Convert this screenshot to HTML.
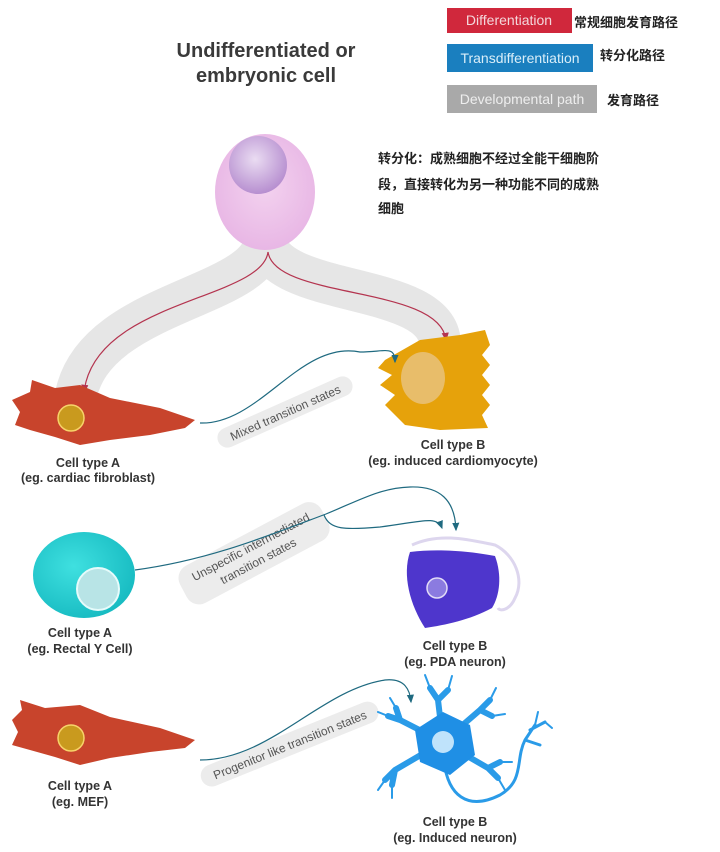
<!DOCTYPE html>
<html><head><meta charset="utf-8"><style>
html,body{margin:0;padding:0;background:#fff}
svg{display:block}
text{font-family:"Liberation Sans","Noto Sans CJK SC",sans-serif}
.lb{font-size:12.5px;font-weight:bold;fill:#333;text-anchor:middle}
</style></head><body>
<svg width="720" height="852" viewBox="0 0 720 852" xmlns="http://www.w3.org/2000/svg">
<defs>
<radialGradient id="pk" cx="0.5" cy="0.45" r="0.6"><stop offset="0" stop-color="#f3d2ef"/><stop offset="1" stop-color="#e7b4e4"/></radialGradient>
<radialGradient id="nu" cx="0.45" cy="0.4" r="0.6"><stop offset="0" stop-color="#eadcf2"/><stop offset="1" stop-color="#b78fd0"/></radialGradient>
<radialGradient id="tl" cx="0.4" cy="0.4" r="0.7"><stop offset="0" stop-color="#3fe0e0"/><stop offset="1" stop-color="#14b8bf"/></radialGradient>
<marker id="ar" markerWidth="8" markerHeight="8" refX="6" refY="4" orient="auto"><path d="M0,1 L7,4 L0,7 z" fill="#b4344f"/></marker>
<marker id="ab" markerWidth="8" markerHeight="8" refX="6" refY="4" orient="auto"><path d="M0,1 L7,4 L0,7 z" fill="#1f6a80"/></marker>
</defs>

<!-- legend -->
<rect x="447" y="8" width="125" height="25" fill="#d0283c"/>
<text x="509" y="25" font-size="14" fill="#f3d7db" text-anchor="middle">Differentiation</text>
<text x="574" y="27" font-size="13" font-weight="bold" fill="#222">常规细胞发育路径</text>
<rect x="447" y="44" width="146" height="28" fill="#1a7fbf"/>
<text x="520" y="63" font-size="14" fill="#d9eef9" text-anchor="middle">Transdifferentiation</text>
<text x="600" y="60" font-size="13" font-weight="bold" fill="#222">转分化路径</text>
<rect x="447" y="85" width="150" height="28" fill="#a9a9a9"/>
<text x="522" y="104" font-size="14" fill="#eee" text-anchor="middle">Developmental path</text>
<text x="607" y="105" font-size="13" font-weight="bold" fill="#222">发育路径</text>

<!-- title -->
<text x="266" y="57" font-size="20" font-weight="bold" fill="#3a3a3a" text-anchor="middle">Undifferentiated or</text>
<text x="266" y="82" font-size="20" font-weight="bold" fill="#3a3a3a" text-anchor="middle">embryonic cell</text>

<text font-size="13" font-weight="bold" fill="#222"><tspan x="378" y="163">转分化：成熟细胞不经过全能干细胞阶</tspan><tspan x="378" y="189">段，直接转化为另一种功能不同的成熟</tspan><tspan x="378" y="213">细胞</tspan></text>

<!-- developmental path -->
<path d="M265,240 C260,300 90,300 75,400" stroke="#e6e6e6" stroke-width="42" fill="none" stroke-linecap="round"/>
<path d="M265,240 C275,300 440,280 440,345" stroke="#e6e6e6" stroke-width="42" fill="none" stroke-linecap="round"/>

<!-- pink cell -->
<ellipse cx="265" cy="192" rx="50" ry="58" fill="url(#pk)"/>
<circle cx="258" cy="165" r="29" fill="url(#nu)"/>

<!-- red arrows -->
<path d="M268,252 C262,300 95,300 84,392" stroke="#b4344f" stroke-width="1.2" fill="none" marker-end="url(#ar)"/>
<path d="M268,252 C275,300 440,285 446,340" stroke="#b4344f" stroke-width="1.2" fill="none" marker-end="url(#ar)"/>

<!-- cell A red -->
<path d="M12,400 L30,392 L32,380 L55,388 L80,385 L110,398 L160,408 L195,420 L185,428 L150,435 L110,440 L80,445 L55,437 L30,430 L15,425 L20,412 Z" fill="#c8442c"/>
<circle cx="71" cy="418" r="13" fill="#c99a1e" stroke="#f7d36a" stroke-width="1.5"/>

<!-- cell B yellow -->
<path d="M385,360 L420,340 L460,335 L485,330 L490,345 L482,355 L490,365 L482,375 L490,385 L482,395 L490,405 L482,415 L488,428 L440,430 L405,425 L395,415 L385,405 L395,395 L380,385 L392,375 L378,368 Z" fill="#e6a20b"/>
<ellipse cx="423" cy="378" rx="22" ry="26" fill="#e8bd6a"/>

<!-- blue arrow 1 -->
<path d="M200,423 C260,425 300,340 360,352 C385,352 395,345 395,362" stroke="#1f6a80" stroke-width="1.2" fill="none" marker-end="url(#ab)"/>
<g transform="rotate(-24 285 412)"><rect x="212" y="402" width="146" height="20" rx="10" fill="#ececec"/><text x="285" y="417" font-size="12" fill="#555" text-anchor="middle">Mixed transition states</text></g>

<text class="lb" x="88" y="467">Cell type A</text>
<text class="lb" x="88" y="482">(eg. cardiac fibroblast)</text>
<text class="lb" x="453" y="449">Cell type B</text>
<text class="lb" x="453" y="465">(eg. induced cardiomyocyte)</text>

<!-- section 2 -->
<ellipse cx="84" cy="575" rx="51" ry="43" fill="url(#tl)"/>
<circle cx="98" cy="589" r="21" fill="#b8e4e6" stroke="#e6fbfb" stroke-width="2"/>
<g transform="rotate(-28 255 555)"><rect x="175" y="532" width="160" height="42" rx="14" fill="#ececec"/><text x="255" y="550" font-size="12" fill="#555" text-anchor="middle">Unspecific intermediated</text><text x="255" y="566" font-size="12" fill="#555" text-anchor="middle">transition states</text></g>
<path d="M135,570 C210,560 270,535 326,514 C360,500 380,488 410,487 C440,486 455,500 456,530" stroke="#1f6a80" stroke-width="1.2" fill="none" marker-end="url(#ab)"/>
<path d="M324,515 C330,530 345,530 380,527 C420,522 437,515 442,528" stroke="#1f6a80" stroke-width="1.2" fill="none" marker-end="url(#ab)"/>
<path d="M412,545 C440,532 470,540 495,545 C515,555 525,580 515,598 C510,610 500,612 498,608" stroke="#ddd6ee" stroke-width="3" fill="none"/>
<path d="M410,552 C440,548 475,552 495,556 C502,575 500,595 492,608 C470,620 445,625 425,628 C410,605 402,575 410,552 Z" fill="#4e36cc"/>
<circle cx="437" cy="588" r="10" fill="#8b7be0" stroke="#e2dcf7" stroke-width="1.5"/>
<text class="lb" x="80" y="637">Cell type A</text>
<text class="lb" x="80" y="653">(eg. Rectal Y Cell)</text>
<text class="lb" x="455" y="650">Cell type B</text>
<text class="lb" x="455" y="666">(eg. PDA neuron)</text>

<!-- section 3 -->
<path d="M12,720 L22,710 L20,700 L45,708 L80,705 L110,717 L160,728 L195,740 L185,748 L150,752 L110,758 L80,765 L55,757 L30,750 L12,745 L18,732 Z" fill="#c8442c"/>
<circle cx="71" cy="738" r="13" fill="#c99a1e" stroke="#f7d36a" stroke-width="1.5"/>
<g transform="rotate(-22 290 745)"><rect x="195" y="733" width="190" height="22" rx="11" fill="#ececec"/><text x="290" y="749" font-size="12" fill="#555" text-anchor="middle">Progenitor like transition states</text></g>
<path d="M200,760 C270,760 320,690 385,680 C405,678 410,690 411,702" stroke="#1f6a80" stroke-width="1.2" fill="none" marker-end="url(#ab)"/>
<!-- neuron -->
<g stroke="#2a9be8" fill="none" stroke-linecap="round">
<path d="M443,742 L438,700 L430,688 M438,700 L448,690 M443,742 L400,720 L388,716 M400,720 L396,708 M443,742 L395,770 L385,780 M395,770 L392,785 M443,742 L480,710 L490,700 M480,710 L492,716 M443,742 L488,768 L498,778 M488,768 L500,762" stroke-width="6"/>
<path d="M443,750 C445,800 470,810 500,795 C525,780 515,760 525,740 L535,725 M525,740 L540,745 M530,730 L545,722" stroke-width="3"/>
<path d="M430,688 L425,675 M448,690 L452,676 M388,716 L378,712 M396,708 L390,698 M385,780 L378,790 M392,785 L392,798 M490,700 L496,688 M492,716 L505,714 M498,778 L505,790 M500,762 L512,762 M535,725 L538,712 M545,722 L552,728" stroke-width="2"/>
</g>
<path d="M443,712 L470,725 L475,755 L450,775 L420,762 L415,730 Z" fill="#1f8fe5"/>
<circle cx="443" cy="742" r="11" fill="#bfe3fb"/>
<text class="lb" x="80" y="790">Cell type A</text>
<text class="lb" x="80" y="806">(eg. MEF)</text>
<text class="lb" x="455" y="826">Cell type B</text>
<text class="lb" x="455" y="842">(eg. Induced neuron)</text>
</svg>
</body></html>
